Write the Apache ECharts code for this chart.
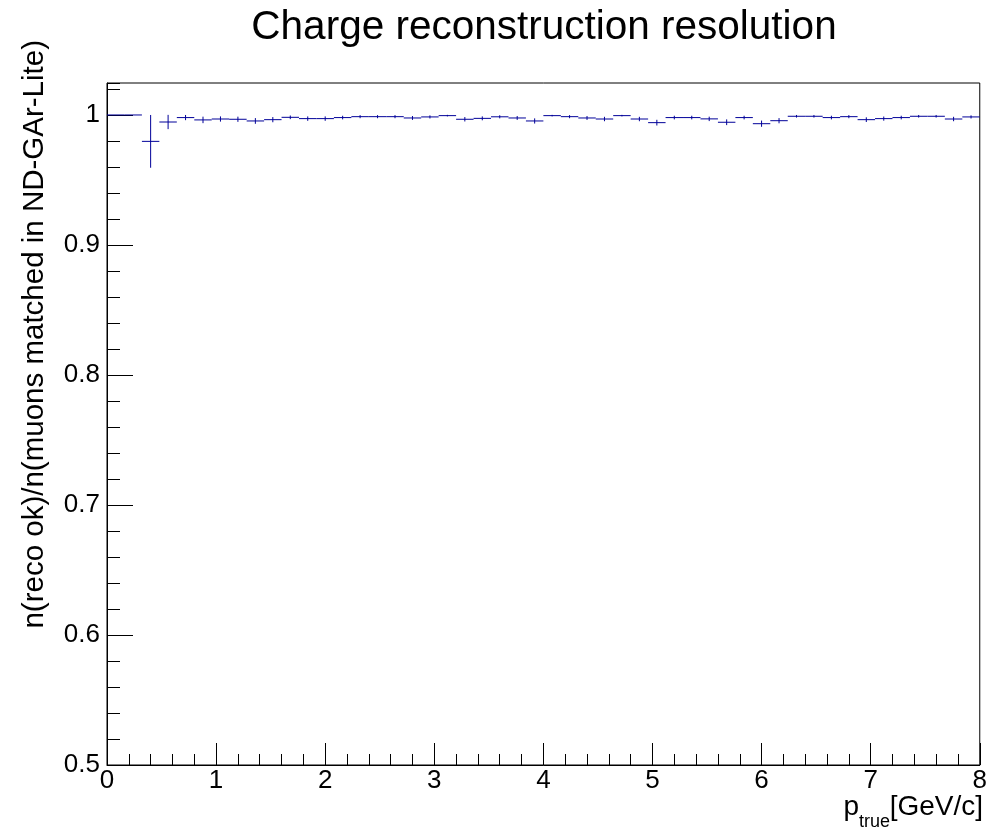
<!DOCTYPE html>
<html>
<head>
<meta charset="utf-8">
<script src="https://cdn.jsdelivr.net/npm/echarts@6/dist/echarts.min.js"></script>
<style>
html,body{margin:0;padding:0;background:#fff;}
#chart{width:990px;height:830px;}
</style>
</head>
<body>
<div id="chart"></div>
<script>
// Histogram bins (low edges, GeV/c), fixed bin width
const binLow = [0, 0.16, 0.32, 0.48, 0.64, 0.8, 0.96, 1.12, 1.28, 1.44,
  1.6, 1.76, 1.92, 2.08, 2.24, 2.4, 2.56, 2.72, 2.88, 3.04,
  3.2, 3.36, 3.52, 3.68, 3.84, 4.0, 4.16, 4.32, 4.48, 4.64,
  4.8, 4.96, 5.12, 5.28, 5.44, 5.6, 5.76, 5.92, 6.08, 6.24,
  6.4, 6.56, 6.72, 6.88, 7.04, 7.2, 7.36, 7.52, 7.68, 7.84];
const binWidth = 0.16;
// Ratio values per bin
const ratio = [1.0, 1.0, 0.9797, 0.9946, 0.998, 0.9962, 0.9969, 0.9967, 0.9954, 0.9964,
  0.9982, 0.9972, 0.9972, 0.998, 0.9987, 0.9987, 0.9987, 0.9977, 0.9985, 0.9995,
  0.9967, 0.9974, 0.9986, 0.9977, 0.9954, 0.9995, 0.9987, 0.9977, 0.9969, 0.9995,
  0.9969, 0.9941, 0.998, 0.998, 0.997, 0.9944, 0.998, 0.9933, 0.9956, 0.999,
  0.999, 0.998, 0.9987, 0.9964, 0.9972, 0.998, 0.999, 0.999, 0.9969, 0.9985];
// Errors per bin
const ratioErr = [0, 0, 0.0203, 0.0055, 0.002, 0.0025, 0.002, 0.002, 0.0022, 0.002,
  0.0014, 0.0017, 0.0017, 0.0014, 0.0012, 0.0012, 0.0012, 0.0015, 0.0012, 0.0006,
  0.0017, 0.0015, 0.0012, 0.0015, 0.002, 0.0006, 0.0012, 0.0015, 0.0017, 0.0006,
  0.0017, 0.0022, 0.0014, 0.0014, 0.0017, 0.0022, 0.0014, 0.0024, 0.002, 0.001,
  0.001, 0.0014, 0.0012, 0.0018, 0.0016, 0.0014, 0.001, 0.001, 0.0017, 0.0012];

const titleText = 'Charge reconstruction resolution';
const yTitle = 'n(reco ok)/n(muons matched in ND-GAr-Lite)';
const FONT = "'Liberation Sans', Arial, Helvetica, sans-serif";
const LINE = '#000099';

const chart = echarts.init(document.getElementById('chart'), null, {renderer: 'canvas'});

const histData = binLow.map((lo, i) => [lo, lo + binWidth, ratio[i], ratioErr[i]]);

const option = {
  animation: false,
  backgroundColor: '#ffffff',
  grid: {left: 107, right: 9, top: 83, bottom: 65, show: true, borderColor: '#000', borderWidth: 1, backgroundColor: 'transparent'},
  xAxis: {
    type: 'value', min: 0, max: 8, interval: 1,
    axisLine: {show: true, lineStyle: {color: '#000', width: 1}},
    axisTick: {show: true, inside: true, length: 22, lineStyle: {color: '#000'}},
    minorTick: {show: true, splitNumber: 5, length: 11, lineStyle: {color: '#000'}},
    splitLine: {show: false},
    axisLabel: {color: '#000', fontSize: 26, fontFamily: FONT, margin: 3}
  },
  yAxis: [{
    type: 'value', min: 0.5, max: 1.0246, interval: 0.1,
    axisLine: {show: true, lineStyle: {color: '#000', width: 1}},
    axisTick: {show: true, inside: true, length: 26, lineStyle: {color: '#000'}},
    splitLine: {show: false},
    axisLabel: {color: '#000', fontSize: 26, fontFamily: FONT, margin: 7, showMaxLabel: false,
      formatter: v => (Math.abs(v - 1) < 1e-9 ? '1' : v.toFixed(1))}
  }, {
    type: 'value', min: 0.5, max: 1.0246, interval: 0.02, position: 'left',
    axisLine: {show: false},
    axisTick: {show: true, inside: true, length: 13, lineStyle: {color: '#000'}},
    splitLine: {show: false},
    axisLabel: {show: false}
  }],
  series: [{
    type: 'custom',
    yAxisIndex: 0,
    clip: true,
    data: histData,
    renderItem: function (params, api) {
      const lo = api.value(0), hi = api.value(1), v = api.value(2), e = api.value(3);
      const p1 = api.coord([lo, v]);
      const p2 = api.coord([hi, v]);
      const children = [{
        type: 'line',
        shape: {x1: p1[0], y1: p1[1], x2: p2[0], y2: p2[1]},
        style: {stroke: LINE, lineWidth: 1}
      }];
      if (e > 0) {
        const c = (lo + hi) / 2;
        const a = api.coord([c, v - e]);
        const b = api.coord([c, v + e]);
        children.push({
          type: 'line',
          shape: {x1: a[0], y1: a[1], x2: b[0], y2: b[1]},
          style: {stroke: LINE, lineWidth: 1}
        });
      }
      return {type: 'group', children: children};
    }
  }],
  graphic: [
    {type: 'text', x: 544, y: 28, style: {text: titleText, font: '40.5px ' + FONT, fill: '#000', align: 'center', verticalAlign: 'middle'}},
    {type: 'text', x: 35, y: 40, rotation: Math.PI / 2, style: {text: yTitle, font: '29.5px ' + FONT, fill: '#000', align: 'right', verticalAlign: 'middle'}},
    {type: 'text', x: 983, y: 807, style: {text: '[GeV/c]', font: '28px ' + FONT, fill: '#000', align: 'right', verticalAlign: 'middle'}},
    {type: 'text', x: 890, y: 822, style: {text: 'true', font: '18px ' + FONT, fill: '#000', align: 'right', verticalAlign: 'middle'}},
    {type: 'text', x: 859, y: 807, style: {text: 'p', font: '28px ' + FONT, fill: '#000', align: 'right', verticalAlign: 'middle'}}
  ]
};
chart.setOption(option);
</script>
</body>
</html>
